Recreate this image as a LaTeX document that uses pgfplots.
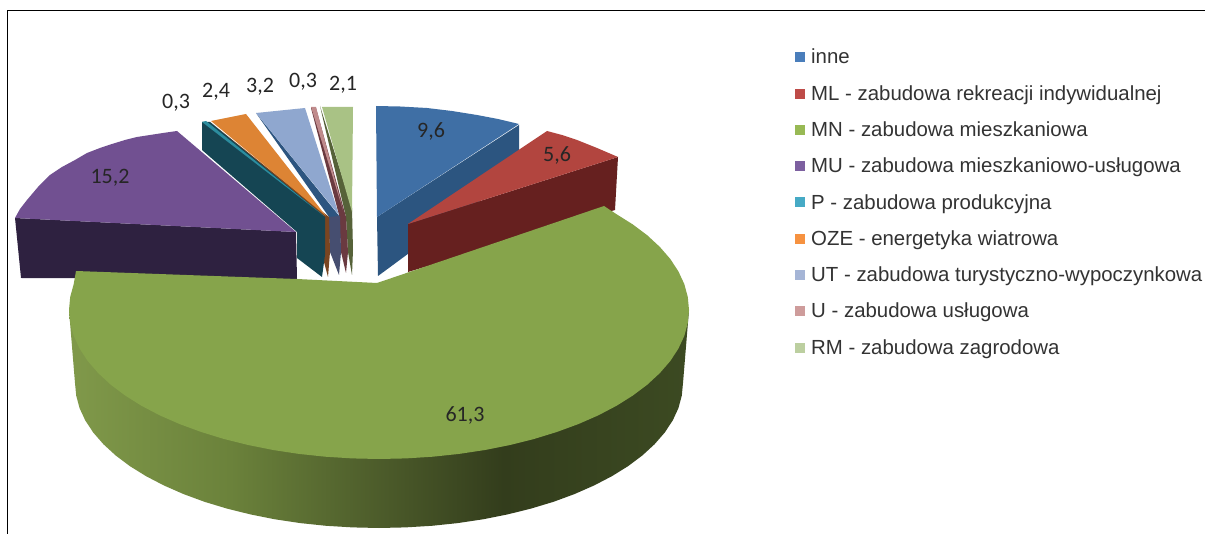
\documentclass[border=0pt]{standalone}
\usepackage{pgfplots}
\pgfplotsset{compat=1.18}
\usepackage{fontspec}
\setmainfont{Liberation Sans}
\newfontfamily\calibri{Carlito}
\definecolor{blueT}{HTML}{3F6FA5}\definecolor{blueS}{HTML}{2C5580}
\definecolor{redT}{HTML}{B2453F}\definecolor{redS}{HTML}{66201F}
\definecolor{greenT}{HTML}{86A44B}
\definecolor{purT}{HTML}{715091}\definecolor{purS}{HTML}{2E2140}
\definecolor{tealT}{HTML}{2C8D9F}\definecolor{tealS}{HTML}{154553}
\definecolor{orT}{HTML}{DD8434}\definecolor{orS}{HTML}{7A4520}
\definecolor{utT}{HTML}{8FA7CF}\definecolor{utS}{HTML}{2D5580}\definecolor{utL}{HTML}{464E70}
\definecolor{uT}{HTML}{C08B8C}\definecolor{uS}{HTML}{6A3A40}
\definecolor{rmT}{HTML}{A9C285}\definecolor{rmS}{HTML}{566239}
\definecolor{lblue}{HTML}{4A7EBB}\definecolor{lred}{HTML}{BE4B48}\definecolor{lgreen}{HTML}{98B954}
\definecolor{lpur}{HTML}{7D60A0}\definecolor{lteal}{HTML}{46AAC5}\definecolor{lor}{HTML}{F69240}
\definecolor{lut}{HTML}{A5B5D6}\definecolor{lu}{HTML}{CE9C9B}\definecolor{lrm}{HTML}{BCCFA0}
\definecolor{gsA}{HTML}{80994A}\definecolor{gsB}{HTML}{6B823B}\definecolor{gsC}{HTML}{4F5F2C}
\definecolor{gsD}{HTML}{333D1C}\definecolor{gsE}{HTML}{3C4A22}
\pgfdeclarehorizontalshading{greenside}{100bp}{
 color(0bp)=(gsA);
 color(25bp)=(gsA);
 color(38bp)=(gsB);
 color(49bp)=(gsC);
 color(60bp)=(gsD);
 color(75bp)=(gsE);
 color(100bp)=(gsE)}
\pgfplotsset{sq/.style={legend image code/.code={\fill[##1] (0pt,-5pt) rectangle (10pt,5pt);\path (14pt,0pt);}}}
\begin{document}
\begin{tikzpicture}
\begin{axis}[
 scale only axis, width=1205pt, height=534pt,
 xmin=0, xmax=1205, ymin=0, ymax=534, y dir=reverse,
 hide axis, clip=true,
 legend cell align=left,
 legend style={at={(axis cs:795,47)},anchor=north west,draw=none,fill=none,
   font=\fontsize{20.4}{23}\selectfont\color[HTML]{333333},row sep=16pt,inner sep=0pt},
 every axis plot/.append style={draw=none,forget plot},
]
\addlegendimage{sq,fill=lblue}\addlegendentry{inne}
\addlegendimage{sq,fill=lred}\addlegendentry{ML - zabudowa rekreacji indywidualnej}
\addlegendimage{sq,fill=lgreen}\addlegendentry{MN - zabudowa mieszkaniowa}
\addlegendimage{sq,fill=lpur}\addlegendentry{MU - zabudowa mieszkaniowo-usługowa}
\addlegendimage{sq,fill=lteal}\addlegendentry{P - zabudowa produkcyjna}
\addlegendimage{sq,fill=lor}\addlegendentry{OZE - energetyka wiatrowa}
\addlegendimage{sq,fill=lut}\addlegendentry{UT - zabudowa turystyczno-wypoczynkowa}
\addlegendimage{sq,fill=lu}\addlegendentry{U - zabudowa usługowa}
\addlegendimage{sq,fill=lrm}\addlegendentry{RM - zabudowa zagrodowa}
% background and frame
\addplot[fill=white] coordinates {(0,0)(1205,0)(1205,534)(0,534)(0,0)};
\addplot[draw=black,line width=1pt,fill=none] coordinates {(7.5,534)(7.5,10.5)(1205,10.5)};
% RM
\addplot[fill=rmS] coordinates {(320,106)(352,208)(353,250)(352,275)(348,252)(346,217)(320,106)};
\addplot[fill=rmT] coordinates {(322,107)(353,107)(352,212)(322,107)};
% U
\addplot[fill=uS] coordinates {(311,108)(316,108)(346,217)(348,252)(346,273)(341,252)(339,215)(311,108)};
\addplot[fill=uT] coordinates {(311,107)(316,107)(343,210)(311,107)};
% UT
\addplot[fill=utS] coordinates {(256,113)(340,217)(329,217)(256,113)};
\addplot[fill=utL] coordinates {(328,217)(340,216)(341,252)(339,275)(330,252)(328,217)};
\addplot[fill=utT] coordinates {(256,113)(305,108)(339,215)(256,113)};
% OZE
\addplot[fill=orS] coordinates {(210,122)(329,217)(330,252)(328,277)(324,262)(325,219)(210,122)};
\addplot[fill=orT] coordinates {(211,121)(246,114)(326,216)(211,121)};
% P
\addplot[fill=tealS] coordinates {(202,122)(210,122)(325,217)(325,255)(322,277)(297,258)(297,232)(202,150)(202,122)};
\addplot[fill=tealT] coordinates {(202,122)(206,121)(324,216)(202,122)};
% MU
\addplot[fill=purS] coordinates {(15,218)(296,232)(297,279)(21,278)(15,218)};
\addplot[fill=purT] coordinates {(15,218)(20,209)(27,200)(38,187)(50,175)(62,167)(75,160)(87,153)(100,148)(112,144)(125,140)(137,137)(150,135)(163,133)(177,131)(296,232)(15,218)};
% inne
\addplot[fill=blueS] coordinates {(377,217)(519,125)(519,172)(378,276)(377,217)};
\addplot[fill=blueT] coordinates {(376,106)(400,106.5)(427,108)(452,111)(477,115)(498,119)(519,124)(377,217)(376,106)};
% ML
\addplot[fill=redS] coordinates {(408,224)(618,157)(615,210)(408,272)(408,224)};
\addplot[fill=redT] coordinates {(408,224)(547,131)(562,135)(577,140)(597,148)(618,157)(408,224)};
% MN side
\addplot[shading=greenside] coordinates {(689,310)(683,383)(681.8,395.6)(678.4,408.2)(672.7,420.5)(664.7,432.6)(654.5,444.3)(642.3,455.5)(628,466.2)(611.9,476.2)(594,485.5)(574.4,494.1)(553.5,501.8)(531,508.6)(507.6,514.4)(483,519.3)(457.7,523.1)(431.9,525.8)(405.5,527.4)(379,528)(352.5,527.4)(326.1,525.8)(300.3,523.1)(275,519.3)(250.4,514.4)(227,508.6)(204.5,501.8)(183.6,494.1)(164,485.5)(146.1,476.2)(130,466.2)(115.7,455.5)(103.5,444.3)(93.3,432.6)(85.3,420.5)(79.6,408.2)(76.2,395.6)(75,383)(69,310)(689,310)};
% MN top
\addplot[fill=greenT] coordinates {(377,283)(604,206)(616.5,214.2)(632.9,224.5)(647.5,235.5)(659.9,247)(670.3,259)(678.4,271.4)(684.3,284.1)(687.8,297)(689,310)(687.8,323)(684.3,335.9)(678.4,348.6)(670.3,361)(659.9,373)(647.5,384.5)(632.9,395.5)(616.5,405.8)(598.2,415.4)(578.3,424.1)(556.8,432)(534,439)(510,445)(485,450)(459.2,453.9)(432.8,456.7)(406,458.4)(379,459)(352,458.4)(325.2,456.7)(298.8,453.9)(273,450)(248,445)(224,439)(201.2,432)(179.7,424.1)(159.8,415.4)(141.5,405.8)(125.1,395.5)(110.5,384.5)(98.1,373)(87.7,361)(79.6,348.6)(73.7,335.9)(70.2,323)(69,310)(70.2,297)(73.7,284.1)(76,271)(297,279)(377,283)};
% labels
\begin{scope}[every node/.style={font=\calibri\fontsize{22}{26}\selectfont,text=black!85}]
\node at (axis cs:465,415) {61,3};
\node at (axis cs:431,131) {9,6};
\node at (axis cs:557,155) {5,6};
\node at (axis cs:110,178) {15,2};
\node at (axis cs:176,103) {0,3};
\node at (axis cs:216,92) {2,4};
\node at (axis cs:260,87) {3,2};
\node at (axis cs:303,82) {0,3};
\node at (axis cs:343,85) {2,1};
\end{scope}
\end{axis}
\end{tikzpicture}
\end{document}
